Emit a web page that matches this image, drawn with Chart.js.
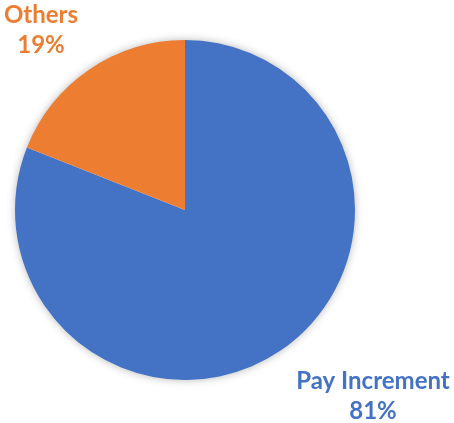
<!DOCTYPE html>
<html>
<head>
<meta charset="utf-8">
<script src="https://cdn.jsdelivr.net/npm/chart.js@4"></script>
<style>
    html, body { margin: 0; padding: 0; background: #ffffff; }
    #wrap { width: 454px; height: 423px; }
</style>
</head>
<body>
<div id="wrap"><canvas id="graficoPizza"></canvas></div>
<script>
/* Dados do gráfico */
var categorias = ["Pay Increment", "Others"];
var valores = [81, 19];
var cores = ["#4472C4", "#ED7D31"];

/* Sombra suave em volta da pizza */
var sombraPizza = {
    id: 'sombraPizza',
    beforeDatasetsDraw: function (chart) {
        var arco = chart.getDatasetMeta(0).data[0];
        var ctx = chart.ctx;
        ctx.save();
        ctx.shadowColor = "rgba(0, 0, 0, 0.35)";
        ctx.shadowBlur = 10;
        ctx.fillStyle = "#ffffff";
        ctx.beginPath();
        ctx.arc(arco.x, arco.y, arco.outerRadius - 1, 0, Math.PI * 2);
        ctx.fill();
        ctx.restore();
    }
};

/* Rótulos fora das fatias: nome + percentual */
var deslocamentos = [[1.12, 81, 29], [1.12, -37, -22]];
var rotulosFatias = {
    id: 'rotulosFatias',
    afterDatasetsDraw: function (chart) {
        var ctx = chart.ctx;
        var meta = chart.getDatasetMeta(0);
        ctx.save();
        ctx.font = "bold 24px Lato, 'Open Sans', sans-serif";
        ctx.textAlign = "center";
        ctx.textBaseline = "middle";
        meta.data.forEach(function (arco, i) {
            var meio = (arco.startAngle + arco.endAngle) / 2;
            var d = deslocamentos[i];
            var x = arco.x + Math.cos(meio) * arco.outerRadius * d[0] + d[1];
            var y = arco.y + Math.sin(meio) * arco.outerRadius * d[0] + d[2];
            ctx.fillStyle = cores[i];
            ctx.fillText(categorias[i], x, y - 15);
            ctx.fillText(valores[i] + "%", x, y + 15);
        });
        ctx.restore();
    }
};

var ctx = document.getElementById('graficoPizza').getContext('2d');
var grafico = new Chart(ctx, {
    type: 'pie',
    data: {
        labels: categorias,
        datasets: [{
            data: valores,
            backgroundColor: cores,
            borderWidth: 0
        }]
    },
    options: {
        responsive: true,
        maintainAspectRatio: false,
        animation: false,
        layout: {
            padding: { left: 15, right: 99, top: 40, bottom: 43 }
        },
        plugins: {
            legend: { display: false },
            tooltip: { enabled: false }
        }
    },
    plugins: [sombraPizza, rotulosFatias]
});
</script>
</body>
</html>
